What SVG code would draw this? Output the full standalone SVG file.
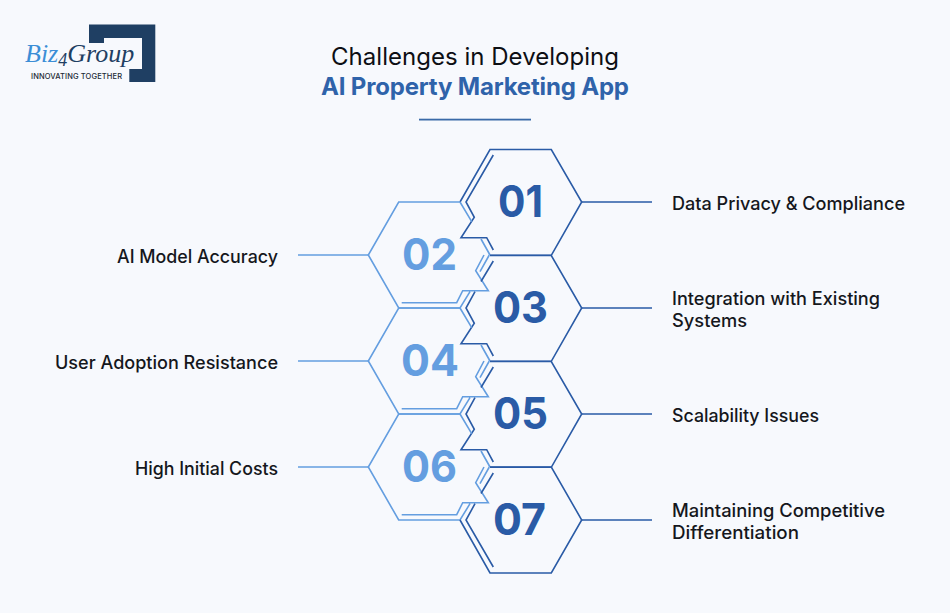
<svg xmlns="http://www.w3.org/2000/svg" width="950" height="613" viewBox="0 0 950 613">
<style>
text{font-family:"Inter","Liberation Sans",sans-serif}
.d{fill:none;stroke:#2a5ba6;stroke-width:1.6;stroke-linejoin:miter}
.l{fill:none;stroke:#649ee0;stroke-width:1.6;stroke-linejoin:miter}
.lab{font-size:18px;font-weight:500;fill:#15171c}
.nd{font-size:44px;font-weight:700;fill:#2a5ba6}
.nl{font-size:44px;font-weight:700;fill:#649ee0}
.sf{font-size:26px;font-style:italic;font-family:"Liberation Serif",serif}
</style>
<defs>
<path id="dk" d="M490 149.5H551.3L581.7 202L551.3 255.3H490M493.3 155L481 175.5M475 185.7L466 202L474.3 217.3L461 237.7H486.7L493.3 250"/>
<path id="lt" d="M460 202H398.7L368.3 255L398.7 308H460L470 291.7M460 202L471.7 221.7M481 239L490 255M484 255L475.7 270.7L488.3 290.7H462.7L456.7 302.7H401.7M489.3 255L480 271.7"/>
</defs>
<rect width="950" height="613" fill="#f7f9fd"/>
<g id="logo">
<path d="M89 24.5H155.3V82H129.3V69H142V38H104V43H89Z" fill="#1f3f63"/>
<rect x="24" y="43" width="118" height="26" fill="#f7f9fd"/>
<rect x="24" y="69" width="105" height="14" fill="#f7f9fd"/>
<text class="sf" x="25" y="62" fill="#1f3f63"><tspan fill="#3b8ed6">Biz</tspan><tspan dy="4" font-size="18">4</tspan><tspan dy="-4">Group</tspan></text>
<text x="31" y="79" font-size="7.5" font-weight="500" fill="#222a35" textLength="91">INNOVATING TOGETHER</text>
</g>
<g id="title">
<text x="331" y="65" font-size="24" font-weight="400" fill="#0d0f14" textLength="288">Challenges in Developing</text>
<text x="321" y="95" font-size="24" font-weight="700" fill="#2f63aa" textLength="308">AI Property Marketing App</text>
<rect x="419" y="118.7" width="112" height="1.8" fill="#3a6aa8"/>
</g>
<g id="connectors">
<path class="d" d="M582 202H652M582 308H652M582 414H652M582 520H652"/>
<path class="l" d="M298 255H368M298 361H368M298 467H368"/>
</g>
<g id="node-01">
<path class="d" d="M460 202L490 149.5H551.3L581.7 202L551.3 255.3H490M493.3 155L466 202L474.3 217.3L461 237.7H486.7L493.3 250"/>
<text class="nd" x="498" y="217" textLength="45" lengthAdjust="spacingAndGlyphs">01</text>
</g>
<g id="node-02">
<use href="#lt" class="l"/>
<text class="nl" x="402" y="270" textLength="55" lengthAdjust="spacingAndGlyphs">02</text>
</g>
<g id="node-03">
<use href="#dk" class="d" y="106"/>
<text class="nd" x="493" y="323" textLength="55" lengthAdjust="spacingAndGlyphs">03</text>
</g>
<g id="node-04">
<use href="#lt" class="l" y="106"/>
<text class="nl" x="401" y="376" textLength="58" lengthAdjust="spacingAndGlyphs">04</text>
</g>
<g id="node-05">
<use href="#dk" class="d" y="212"/>
<text class="nd" x="493" y="429" textLength="55" lengthAdjust="spacingAndGlyphs">05</text>
</g>
<g id="node-06">
<use href="#lt" class="l" y="212"/>
<text class="nl" x="402" y="482" textLength="55" lengthAdjust="spacingAndGlyphs">06</text>
</g>
<g id="node-07">
<path class="d" d="M460 520L490 573H551.3L581.7 520L551.3 467H490M493.3 473L481 493.5M475 503.7L466 520L493.3 567"/>
<text class="nd" x="493" y="535" textLength="53" lengthAdjust="spacingAndGlyphs">07</text>
</g>
<g id="labels">
<text class="lab" x="672" y="209.5" textLength="233" lengthAdjust="spacingAndGlyphs">Data Privacy &amp; Compliance</text>
<text class="lab" x="672" y="304.5" textLength="208" lengthAdjust="spacingAndGlyphs">Integration with Existing</text>
<text class="lab" x="672" y="326.5" textLength="75" lengthAdjust="spacingAndGlyphs">Systems</text>
<text class="lab" x="672" y="421.5" textLength="147" lengthAdjust="spacingAndGlyphs">Scalability Issues</text>
<text class="lab" x="672" y="516.5" textLength="213" lengthAdjust="spacingAndGlyphs">Maintaining Competitive</text>
<text class="lab" x="672" y="538.5" textLength="127" lengthAdjust="spacingAndGlyphs">Differentiation</text>
<text class="lab" x="117" y="262.5" textLength="161" lengthAdjust="spacingAndGlyphs">AI Model Accuracy</text>
<text class="lab" x="55" y="368.5" textLength="223" lengthAdjust="spacingAndGlyphs">User Adoption Resistance</text>
<text class="lab" x="135" y="474.5" textLength="143" lengthAdjust="spacingAndGlyphs">High Initial Costs</text>
</g>
</svg>
